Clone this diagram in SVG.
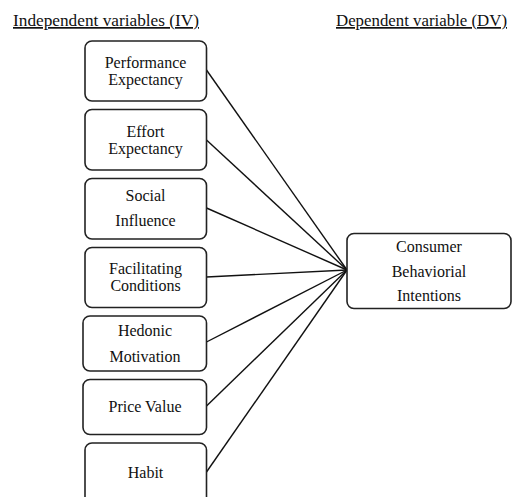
<svg xmlns="http://www.w3.org/2000/svg" width="512" height="497" viewBox="0 0 512 497" font-family="'Liberation Serif', 'DejaVu Serif', serif">
<style>
.box{fill:#fff;stroke:#222;stroke-width:1.6}
text{font-family:'Liberation Serif','DejaVu Serif',serif;fill:#111}
.t{font-size:16px;text-anchor:middle}
.h{font-size:17px;text-decoration:underline}
.c{stroke:#111;stroke-width:1.4;fill:none}
</style>
<rect width="512" height="497" fill="#fff"/>
<text class="h" x="13" y="26" textLength="186" lengthAdjust="spacingAndGlyphs">Independent variables (IV)</text>
<text class="h" x="336" y="26" textLength="171" lengthAdjust="spacingAndGlyphs">Dependent variable (DV)</text>
<g id="connectors">
<line class="c" x1="206.5" y1="70" x2="347" y2="270"/>
<line class="c" x1="206.5" y1="140" x2="347" y2="270"/>
<line class="c" x1="206.5" y1="208" x2="347" y2="270"/>
<line class="c" x1="206.5" y1="277" x2="347" y2="270"/>
<line class="c" x1="206.5" y1="342" x2="347" y2="270"/>
<line class="c" x1="206.5" y1="406" x2="347" y2="270"/>
<line class="c" x1="206.5" y1="472" x2="347" y2="270"/>
</g>
<g id="pe"><rect class="box" x="85" y="41" width="121.5" height="60" rx="7"/><text class="t" x="145.5" y="68">Performance</text><text class="t" x="145.5" y="85">Expectancy</text></g>
<g id="ee"><rect class="box" x="85" y="109.5" width="121.5" height="60.5" rx="7"/><text class="t" x="145.5" y="137">Effort</text><text class="t" x="145.5" y="154">Expectancy</text></g>
<g id="si"><rect class="box" x="85" y="178.5" width="121.5" height="60.5" rx="7"/><text class="t" x="145.5" y="201">Social</text><text class="t" x="145.5" y="226">Influence</text></g>
<g id="fc"><rect class="box" x="85" y="247.5" width="121.5" height="60" rx="7"/><text class="t" x="145.5" y="274">Facilitating</text><text class="t" x="145.5" y="291">Conditions</text></g>
<g id="hm"><rect class="box" x="83" y="316" width="123.5" height="55" rx="7"/><text class="t" x="145" y="336">Hedonic</text><text class="t" x="145" y="362">Motivation</text></g>
<g id="pv"><rect class="box" x="83" y="379.5" width="123.5" height="55" rx="7"/><text class="t" x="145" y="412">Price Value</text></g>
<g id="hb"><rect class="box" x="85" y="443" width="121.5" height="70" rx="7"/><text class="t" x="145.5" y="478">Habit</text></g>
<g id="cbi"><rect class="box" x="347" y="233.5" width="164" height="75" rx="7"/><text class="t" x="429" y="252">Consumer</text><text class="t" x="429" y="277">Behaviorial</text><text class="t" x="429" y="301">Intentions</text></g>
</svg>
